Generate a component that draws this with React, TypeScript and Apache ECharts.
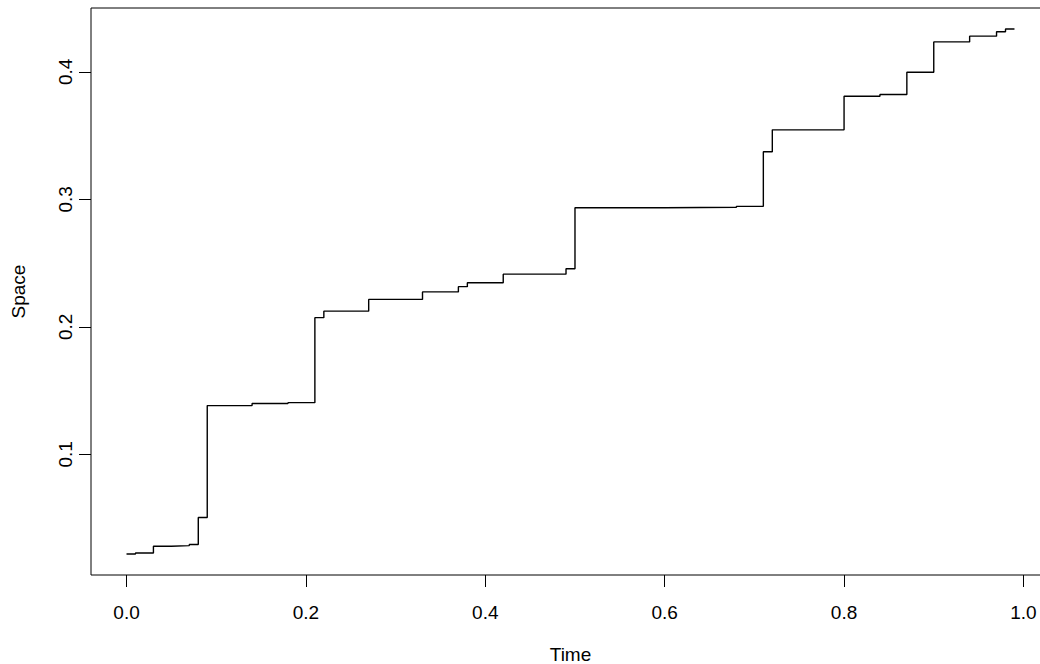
import React, { useEffect, useRef } from "react";
import * as echarts from "echarts";

// Step path of the process: time of each change and the value it jumps to
const times = [
  0.0, 0.01, 0.03, 0.05, 0.07, 0.08, 0.09, 0.14, 0.18, 0.21, 0.22, 0.27, 0.33, 0.37, 0.38,
  0.42, 0.49, 0.5, 0.6, 0.68, 0.71, 0.72, 0.8, 0.84, 0.87, 0.9, 0.94, 0.97, 0.98, 0.99,
];
const space = [
  0.0218, 0.0226, 0.0279, 0.0284, 0.0292, 0.0504, 0.1382, 0.1398, 0.1405, 0.2072, 0.2123,
  0.2215, 0.2274, 0.2315, 0.2346, 0.2413, 0.2456, 0.2934, 0.2938, 0.2945, 0.3373, 0.3545,
  0.3809, 0.3822, 0.3997, 0.4235, 0.428, 0.4314, 0.4336, 0.4336,
];
const xTicks = [0, 0.2, 0.4, 0.6, 0.8, 1.0];
const yTicks = [0.1, 0.2, 0.3, 0.4];

const FONT = "'Liberation Sans', Arial, Helvetica, sans-serif";
const FS = 19;

// Axis limits padded by 4% of the data range on each side
function padded(vals: number[]) {
  const lo = Math.min(...vals);
  const hi = Math.max(...vals);
  const pad = (hi - lo) * 0.04;
  return [lo - pad, hi + pad];
}

export default function App() {
  const ref = useRef<HTMLDivElement>(null);

  useEffect(() => {
    if (!ref.current) return;
    const chart = echarts.init(ref.current, null, { renderer: "svg" });
    const [xMin, xMax] = padded(times);
    const [yMin, yMax] = padded(space);

    chart.setOption({
      animation: false,
      backgroundColor: "#ffffff",
      grid: {
        left: 91,
        top: 8,
        width: 959,
        height: 567,
        outerBoundsMode: "none",
        containLabel: false,
        show: true,
        borderColor: "#000000",
        borderWidth: 1,
        backgroundColor: "transparent",
      },
      xAxis: {
        type: "value",
        min: xMin,
        max: xMax,
        name: "Time",
        nameLocation: "middle",
        nameGap: 70,
        nameTextStyle: { fontFamily: FONT, fontSize: FS, color: "#000" },
        axisLine: { show: false, onZero: false },
        splitLine: { show: false },
        axisTick: {
          show: true,
          length: 12,
          customValues: xTicks,
          lineStyle: { color: "#000", width: 1 },
        },
        axisLabel: {
          customValues: xTicks,
          formatter: (v: number) => v.toFixed(1),
          fontFamily: FONT,
          fontSize: FS,
          color: "#000",
          margin: 28,
        },
      },
      yAxis: {
        type: "value",
        min: yMin,
        max: yMax,
        name: "Space",
        nameLocation: "middle",
        nameGap: 63,
        nameRotate: 90,
        nameTextStyle: { fontFamily: FONT, fontSize: FS, color: "#000" },
        axisLine: { show: false, onZero: false },
        splitLine: { show: false },
        axisTick: {
          show: true,
          length: 12,
          customValues: yTicks,
          lineStyle: { color: "#000", width: 1 },
        },
        axisLabel: {
          customValues: yTicks,
          formatter: (v: number) => v.toFixed(1),
          rotate: 90,
          fontFamily: FONT,
          fontSize: FS,
          color: "#000",
          margin: 16,
        },
      },
      series: [
        {
          type: "line",
          step: "end",
          showSymbol: false,
          silent: true,
          lineStyle: { color: "#000", width: 1.4 },
          data: times.map((t, i) => [t, space[i]]),
        },
      ],
    });

    return () => chart.dispose();
  }, []);

  return (
    <div
      ref={ref}
      style={{ position: "absolute", left: 0, top: 0, width: 1040, height: 664, background: "#fff" }}
    />
  );
}
